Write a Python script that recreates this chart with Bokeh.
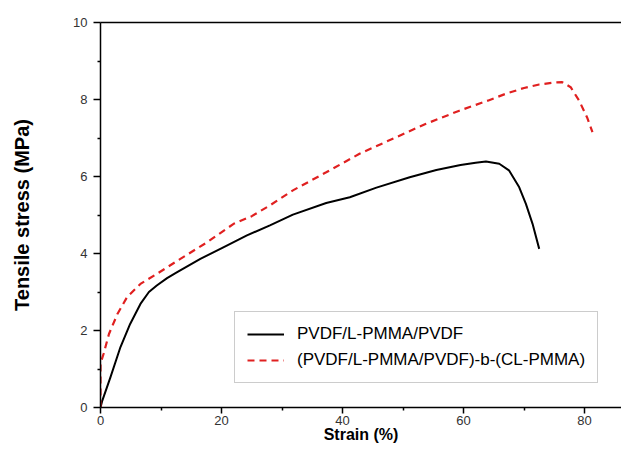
from bokeh.plotting import figure
from bokeh.models import LinearAxis, FixedTicker, Range1d, Legend, LegendItem
from bokeh.embed import file_html
from bokeh.resources import INLINE

# Data
strain_a = [0, 0.3, 1.65, 3.3, 4.9, 6.6, 8.0, 9.3, 11.0, 12.6, 16.5, 20.3, 24.2,
            28.0, 31.8, 37.3, 41.2, 45.6, 51.1, 55.5, 59.5, 62.0, 63.7, 65.9,
            67.5, 69.2, 70.3, 71.4, 72.5]
stress_a = [0, 0.18, 0.79, 1.57, 2.17, 2.69, 3.00, 3.17, 3.36, 3.51, 3.86, 4.16,
            4.47, 4.73, 5.01, 5.31, 5.46, 5.71, 5.98, 6.17, 6.30, 6.36, 6.39,
            6.33, 6.16, 5.72, 5.29, 4.77, 4.12]

strain_b = [0, 0, 0.5, 1.4, 2.8, 4.4, 6.6, 9.3, 13.2, 17.6, 22.0, 25.0, 28.0,
            31.8, 37.3, 42.8, 48.3, 53.8, 59.3, 64.0, 67.0, 70.0, 72.5, 75.0,
            76.3, 77.7, 79.1, 80.4, 81.3]
stress_b = [0, 1.14, 1.39, 1.91, 2.43, 2.87, 3.21, 3.47, 3.86, 4.29, 4.77, 4.97,
            5.25, 5.64, 6.11, 6.59, 6.98, 7.37, 7.71, 7.97, 8.15, 8.30, 8.39,
            8.44, 8.45, 8.32, 7.97, 7.54, 7.15]

label_a = "PVDF/L-PMMA/PVDF"
label_b = "(PVDF/L-PMMA/PVDF)-b-(CL-PMMA)"
x_ticks = [0, 20, 40, 60, 80]
y_ticks = [0, 2, 4, 6, 8, 10]

FONT = "Liberation Sans"

p = figure(width=621, height=446, output_backend="svg", toolbar_location=None,
           x_range=Range1d(0, 86.1), y_range=Range1d(0, 10),
           min_border_left=100, min_border_right=0, min_border_top=22,
           min_border_bottom=39)
p.outline_line_color = None
p.xgrid.visible = False
p.ygrid.visible = False
p.background_fill_color = "white"
p.border_fill_color = "white"

la = p.line(strain_a, stress_a, line_color="black", line_width=2,
            line_join="round")
lb = p.line(strain_b, stress_b, line_color="#e02020", line_width=2.2,
            line_dash="7 5")

for ax in (p.xaxis[0], p.yaxis[0]):
    ax.axis_line_color = "black"
    ax.axis_line_width = 1.5
    ax.major_tick_line_color = "black"
    ax.major_tick_line_width = 1.5
    ax.minor_tick_line_color = "black"
    ax.minor_tick_line_width = 1.5
    ax.major_tick_in = 0
    ax.minor_tick_in = 0
    ax.major_tick_out = 7
    ax.minor_tick_out = 3
    ax.major_label_text_font = FONT
    ax.major_label_text_font_size = "13px"
    ax.major_label_text_color = "#333333"
    ax.axis_label_text_font = FONT
    ax.axis_label_text_font_style = "bold"
    ax.axis_label_text_color = "black"

p.xaxis[0].ticker = x_ticks
p.xaxis[0].ticker.minor_ticks = [10, 30, 50, 70]
p.yaxis[0].ticker = y_ticks
p.yaxis[0].ticker.minor_ticks = [1, 3, 5, 7, 9]

p.xaxis[0].axis_label = "Strain (%)"
p.xaxis[0].axis_label_text_font_size = "16px"
p.xaxis[0].major_tick_out = 6
p.xaxis[0].major_label_standoff = 2
p.xaxis[0].axis_label_standoff = -2

p.yaxis[0].axis_label = "Tensile stress (MPa)"
p.yaxis[0].axis_label_text_font_size = "20px"
p.yaxis[0].major_label_standoff = 6
p.yaxis[0].axis_label_standoff = 37

top = LinearAxis(ticker=FixedTicker(ticks=[]), axis_line_color="black",
                 axis_line_width=1.5, major_tick_line_color=None,
                 minor_tick_line_color=None)
p.add_layout(top, "above")

legend = Legend(items=[LegendItem(label=label_a, renderers=[la]),
                       LegendItem(label=label_b, renderers=[lb])],
                location=(134, 24), orientation="vertical",
                glyph_width=37, glyph_height=20, label_height=20,
                spacing=6, padding=12, margin=0, label_standoff=13,
                label_text_font=FONT, label_text_font_size="17px",
                label_text_color="black",
                border_line_color="#999999", border_line_width=1,
                background_fill_color="white", background_fill_alpha=1)
p.add_layout(legend, "center")

open("out.html", "w").write(file_html(p, INLINE))
